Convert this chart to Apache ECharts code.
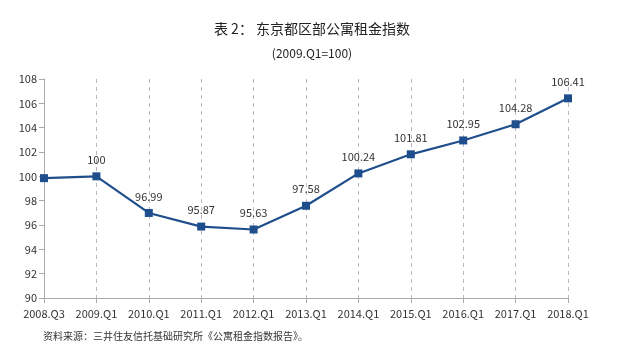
<!DOCTYPE html>
<html><head><meta charset="utf-8">
<script src="https://cdn.jsdelivr.net/npm/echarts@6/dist/echarts.min.js"></script>
<style>html,body{margin:0;padding:0;background:#fff}#c{width:626px;height:356px}</style>
</head><body><div id="c"></div>
<script>
const categories = ['2008.Q3','2009.Q1','2010.Q1','2011.Q1','2012.Q1','2013.Q1','2014.Q1','2015.Q1','2016.Q1','2017.Q1','2018.Q1'];
const values = [99.85, 100, 96.99, 95.87, 95.63, 97.58, 100.24, 101.81, 102.95, 104.28, 106.41];
const labelText = ['', '100', '96.99', '95.87', '95.63', '97.58', '100.24', '101.81', '102.95', '104.28', '106.41'];
const titleText = '表 2： 东京都区部公寓租金指数';
const subtitleText = '(2009.Q1=100)';
const sourceText = '资料来源：三井住友信托基础研究所《公寓租金指数报告》。';
const font = '"Noto Sans CJK SC", "Noto Sans", sans-serif';
const chart = echarts.init(document.getElementById('c'));
chart.setOption({
  animation: false,
  backgroundColor: '#fff',
  title: [
    {text: titleText, left: 307, textAlign: 'center', top: 17, textStyle: {fontFamily: font, fontSize: 14, fontWeight: 'normal', color: '#222'}},
    {text: subtitleText, left: 307, textAlign: 'center', top: 42, textStyle: {fontFamily: font, fontSize: 12, fontWeight: 'normal', color: '#222'}},
    {text: sourceText, left: 38, top: 326, textStyle: {fontFamily: font, fontSize: 10, fontWeight: 'normal', color: '#333'}}
  ],
  grid: {left: 44, right: 58, top: 79, bottom: 58},
  xAxis: {
    type: 'category', data: categories, boundaryGap: false,
    axisLine: {lineStyle: {color: '#aaa', width: 1}},
    axisTick: {show: true, alignWithLabel: true, length: 5, lineStyle: {color: '#aaa'}},
    axisLabel: {color: '#333', fontFamily: font, fontSize: 11, margin: 10, interval: 0},
    splitLine: {show: true, lineStyle: {color: '#bdb5c6', type: [4, 4], width: 1}}
  },
  yAxis: {
    type: 'value', min: 90, max: 108, interval: 2,
    axisLine: {show: true, lineStyle: {color: '#aaa', width: 1}},
    axisTick: {show: true, length: 5, lineStyle: {color: '#aaa'}},
    axisLabel: {color: '#333', fontFamily: font, fontSize: 11, margin: 7},
    splitLine: {show: false}
  },
  series: [{
    type: 'line', data: values,
    symbol: 'rect', symbolSize: 8,
    itemStyle: {color: '#1f4e8c'},
    lineStyle: {color: '#1f4e8c', width: 2.2},
    label: {show: true, position: 'top', distance: 7, color: '#333', fontFamily: font, fontSize: 11,
      formatter: p => labelText[p.dataIndex]}
  }]
});
</script></body></html>
